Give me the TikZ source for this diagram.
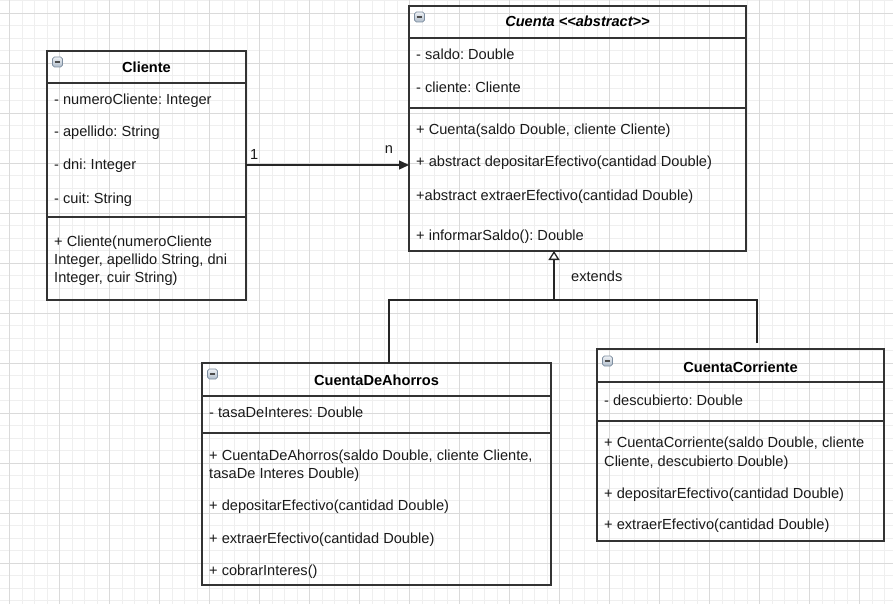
\documentclass[tikz,border=0pt]{standalone}
\usepackage{fontspec}
\setmainfont{Liberation Sans}
\usetikzlibrary{arrows.meta}
\frenchspacing

\definecolor{gridmajor}{HTML}{DADADA}
\definecolor{gridminor}{HTML}{EFEFEF}
\definecolor{edgegray}{HTML}{333333}
\definecolor{inkgray}{HTML}{1A1A1A}
\definecolor{icontop}{HTML}{EEF1F5}
\definecolor{iconbot}{HTML}{AEBBC9}
\definecolor{iconedge}{HTML}{7E8EA0}

% one text line: name, x, baseline y, text
\newcommand\umlline[4]{\node[umltxt] (#1) at (#2,#3) {#4};}
% class header icon: name, x, y (centre)
\newcommand\umlicon[3]{\node[iconbox] (#1) at (#2,#3) {};}

\tikzset{
  umlbox/.style={draw=edgegray, line width=1.4pt, inner sep=0pt, outer sep=0pt, anchor=north west},
  sepline/.style={draw=edgegray, line width=1.2pt},
  umltxt/.style={anchor=base west, inner sep=0pt, text=inkgray, font=\fontsize{14.6}{18}\selectfont},
  umltitle/.style={anchor=base, inner sep=0pt, text=black, font=\fontsize{14.6}{18}\selectfont\bfseries},
  conn/.style={draw=black!85, line width=1.3pt},
  iconbox/.style={rounded corners=1.8pt, draw=iconedge, line width=0.7pt, top color=icontop, bottom color=iconbot,
    minimum size=10pt, inner sep=0pt,
    path picture={\draw[line width=1.5pt, black!70] ([xshift=-2.8pt]path picture bounding box.center) -- ([xshift=2.8pt]path picture bounding box.center);}},
}

\begin{document}
\begin{tikzpicture}[x=1pt, y=-1pt]
\useasboundingbox (0,0) rectangle (893,604);
\fill[white] (0,0) rectangle (893,604);

% background grid
\foreach \k in {0,...,71} \draw[gridminor, line width=0.9pt] ({9.5+12.5*\k},0) -- ({9.5+12.5*\k},604);
\foreach \k in {0,...,48} \draw[gridminor, line width=0.9pt] (0,{0.8+12.5*\k}) -- (893,{0.8+12.5*\k});
\foreach \k in {0,...,17} \draw[gridmajor, line width=0.9pt] ({9.5+50*\k},0) -- ({9.5+50*\k},604);
\foreach \k in {0,...,12} \draw[gridmajor, line width=0.9pt] (0,{13.3+50*\k}) -- (893,{13.3+50*\k});

% ---------- Cliente ----------
\node[umlbox, minimum width=199pt, minimum height=249pt] (cliente) at (47,51) {};
\draw[sepline] (47,83) -- (246,83);
\draw[sepline] (47,217) -- (246,217);
\umlicon{cliente-icon}{57.5}{62}
\node[umltitle] (cliente-title) at (146.5,73) {Cliente};
\umlline{cliente-a1}{54}{105}{- numeroCliente: Integer}
\umlline{cliente-a2}{54}{137}{- apellido: String}
\umlline{cliente-a3}{54}{170}{- dni: Integer}
\umlline{cliente-a4}{54}{203}{- cuit: String}
\umlline{cliente-m1a}{54}{246}{+ Cliente(numeroCliente}
\umlline{cliente-m1b}{54}{264}{Integer, apellido String, dni}
\umlline{cliente-m1c}{54}{282}{Integer, cuir String)}

% ---------- Cuenta ----------
\node[umlbox, minimum width=337pt, minimum height=245pt] (cuenta) at (409,6) {};
\draw[sepline] (409,38) -- (746,38);
\draw[sepline] (409,108) -- (746,108);
\umlicon{cuenta-icon}{419.5}{17}
\node[umltitle] (cuenta-title) at (577.5,27) {\itshape Cuenta <\kern0pt<abstract>\kern0pt>};
\umlline{cuenta-a1}{416}{60}{- saldo: Double}
\umlline{cuenta-a2}{416}{93}{- cliente: Cliente}
\umlline{cuenta-m1}{416}{135}{+ Cuenta(saldo Double, cliente Cliente)}
\umlline{cuenta-m2}{416}{167}{+ abstract depositarEfectivo(cantidad Double)}
\umlline{cuenta-m3}{416}{200}{+abstract extraerEfectivo(cantidad Double)}
\umlline{cuenta-m4}{416}{240}{+ informarSaldo(): Double}

% ---------- CuentaDeAhorros ----------
\node[umlbox, minimum width=349pt, minimum height=222pt] (ahorros) at (202,363) {};
\draw[sepline] (202,396) -- (551,396);
\draw[sepline] (202,433) -- (551,433);
\umlicon{ahorros-icon}{212.5}{374}
\node[umltitle] (ahorros-title) at (376.5,385) {CuentaDeAhorros};
\umlline{ahorros-a1}{209}{417}{- tasaDeInteres: Double}
\umlline{ahorros-m1a}{209}{460}{+ CuentaDeAhorros(saldo Double, cliente Cliente,}
\umlline{ahorros-m1b}{209}{478}{tasaDe Interes Double)}
\umlline{ahorros-m2}{209}{510}{+ depositarEfectivo(cantidad Double)}
\umlline{ahorros-m3}{209}{543}{+ extraerEfectivo(cantidad Double)}
\umlline{ahorros-m4}{209}{575}{+ cobrarInteres()}

% ---------- CuentaCorriente ----------
\node[umlbox, minimum width=287pt, minimum height=192pt] (corriente) at (597,349) {};
\draw[sepline] (597,382) -- (884,382);
\draw[sepline] (597,421) -- (884,421);
\umlicon{corriente-icon}{607.5}{361}
\node[umltitle] (corriente-title) at (740.5,372) {CuentaCorriente};
\umlline{corriente-a1}{604}{405}{- descubierto: Double}
\umlline{corriente-m1a}{604}{447}{+ CuentaCorriente(saldo Double, cliente}
\umlline{corriente-m1b}{604}{466}{Cliente, descubierto Double)}
\umlline{corriente-m2}{604}{498}{+ depositarEfectivo(cantidad Double)}
\umlline{corriente-m3}{604}{529}{+ extraerEfectivo(cantidad Double)}

% ---------- association Cliente -> Cuenta ----------
\coordinate (assocy) at (0,165);
\draw[conn, -{Triangle[length=10pt, width=9pt]}] (cliente.east |- assocy) -- (cuenta.west |- assocy);
\node[umltxt] (mult-1) at (250,160) {1};
\node[umltxt, anchor=base] (mult-n) at (389,154) {n};

% ---------- generalization ----------
\coordinate (gen) at (554,300);
\coordinate (genL) at (389,300);
\coordinate (genR) at (757,300);
\coordinate (genRend) at (757,343);
\draw[conn] (genRend) -- (genR) -- (gen);
\draw[conn, -{Triangle[open, fill=white, length=9pt, width=11pt]}] (genL |- ahorros.north) -- (genL) -- (gen) -- (gen |- cuenta.south);
\node[umltxt] (extends-label) at (571,281) {extends};

\end{tikzpicture}
\end{document}
